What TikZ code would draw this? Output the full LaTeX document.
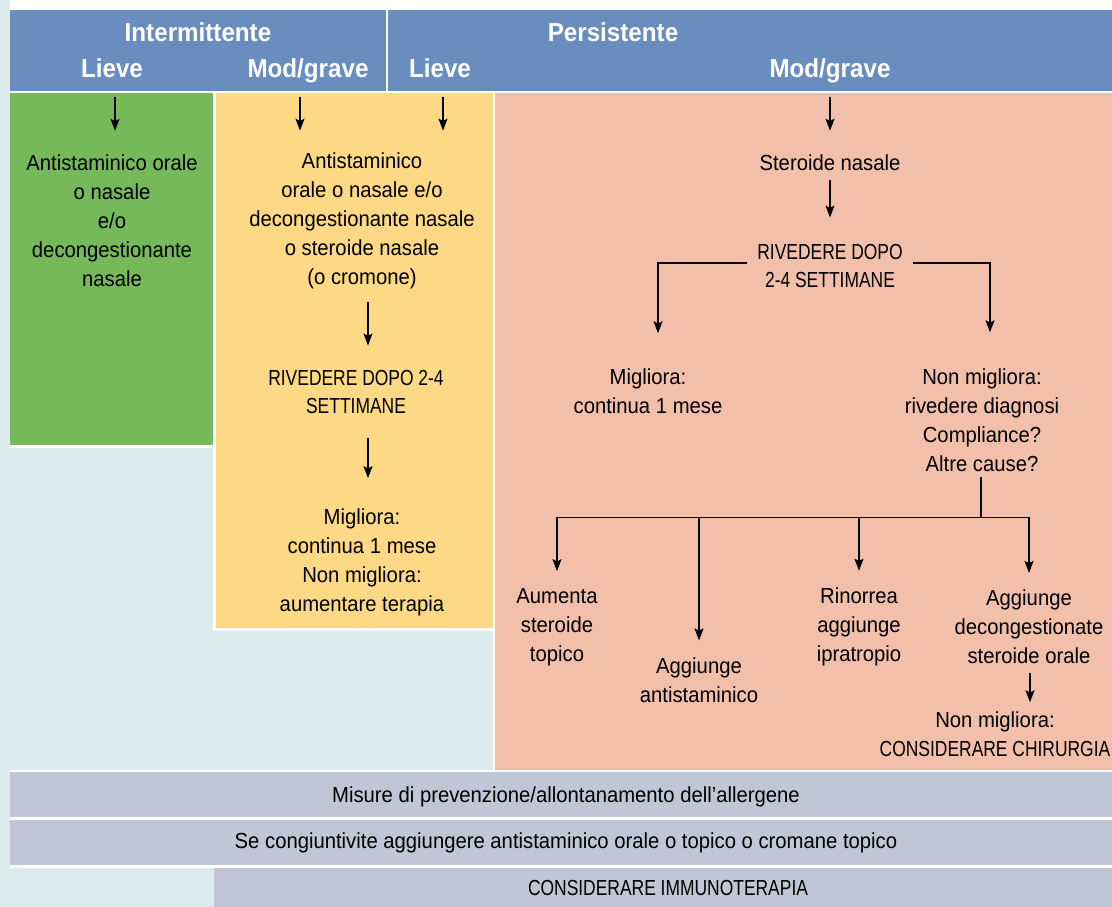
\documentclass[tikz,border=0pt]{standalone}
\usepackage{fontspec}
\setmainfont{Liberation Sans}[FakeStretch=0.93]
\newfontfamily\capsfont{Liberation Sans}[FakeStretch=0.80]
\usepackage{tikz}
\usetikzlibrary{arrows.meta,calc,positioning}

\definecolor{bgteal}{HTML}{DCEBEB}
\definecolor{headblue}{HTML}{6A8DC0}
\definecolor{lievegreen}{HTML}{75B95A}
\definecolor{modyellow}{HTML}{FDD985}
\definecolor{persalmon}{HTML}{F2BFAA}
\definecolor{bandgrey}{HTML}{C1C6D6}

\begin{document}
\begin{tikzpicture}[x=0.025cm, y=-0.025cm,
  >={Stealth[length=8.5pt, width=6.4pt, inset=1.6pt]},
  font=\fontsize{15.5}{20.6}\selectfont,
  txt/.style={align=center, inner sep=0pt},
  head/.style={inner sep=0pt, anchor=base, text=white,
    font=\fontsize{18.5}{20}\selectfont\bfseries},
  link/.style={->, line width=0.9pt},
  wire/.style={line width=0.9pt}]

\useasboundingbox (0,0) rectangle (1112,907);

% ---- Background and panels ----
\fill[bgteal] (0,0) rectangle (1112,907);
\fill[white] (10,0) rectangle (1112,10);
\fill[headblue] (10,10) rectangle (1112,91);
\fill[white] (385.5,10) rectangle (387.5,91);
\fill[white] (10,91) rectangle (1112,93);
\fill[lievegreen] (10,93) rectangle (213,445);
\fill[white] (10,445) rectangle (213,447.5);
\fill[white] (213,93) rectangle (215.5,630.5);
\fill[modyellow] (215.5,93) rectangle (492.5,628);
\fill[white] (215.5,628) rectangle (495,630.5);
\fill[white] (492.5,93) rectangle (495,769.5);
\fill[persalmon] (495,93) rectangle (1112,769.5);
\fill[white] (10,769.5) rectangle (1112,772);
\fill[bandgrey] (10,772) rectangle (1112,817);
\fill[white] (10,817) rectangle (1112,820);
\fill[bandgrey] (10,820) rectangle (1112,865);
\fill[white] (10,865) rectangle (1112,868);
\fill[bandgrey] (214,868) rectangle (1112,907);

% ---- Header ----
\node[head] (hInt)    at (198,42) {Intermittente};
\node[head] (hLieveI) at (112,77) {Lieve};
\node[head] (hModI)   at (308,77) {Mod/grave};
\node[head] (hPers)   at (613,42) {Persistente};
\node[head] (hLieveP) at (440,77) {Lieve};
\node[head] (hModP)   at (830,77) {Mod/grave};

% ---- Intermittente lieve ----
\node[txt] (gTx) at (112,221)
  {Antistaminico orale\\o nasale\\e/o\\decongestionante\\nasale};
\draw[link] ($(hLieveI.base)+(3,20)$) -- ($(hLieveI.base |- gTx.north)+(3,-24)$);

% ---- Intermittente mod/grave e persistente lieve ----
\node[txt] (yTx) at (362,221)
  {Antistaminico\\orale o nasale e/o\\decongestionante nasale\\o steroide nasale\\(o cromone)};
\node[txt, font=\fontsize{15.5}{20.6}\capsfont] (yRev) at (356,392)
  {RIVEDERE DOPO 2-4\\SETTIMANE};
\node[txt] (yEsito) at (362,562)
  {Migliora:\\continua 1 mese\\Non migliora:\\aumentare terapia};
\draw[link] ($(hModI.base)+(-8,20)$) -- ($(hModI.base |- yTx.north)+(-8,-22)$);
\draw[link] ($(hLieveP.base)+(3,20)$) -- ($(hLieveP.base |- yTx.north)+(3,-22)$);
\draw[link] ($(yTx.south)+(6,13)$) -- ($(yTx.south |- yRev.north)+(6,-24)$);
\draw[link] ($(yRev.base)+(12,24)$) -- ($(yRev.base |- yEsito.north)+(12,-30)$);

% ---- Persistente mod/grave ----
\node[txt] (sSter) at (830,163) {Steroide nasale};
\node[txt, font=\fontsize{15.5}{20.6}\capsfont] (sRev) at (830,266)
  {RIVEDERE DOPO\\2-4 SETTIMANE};
\node[txt] (sMigl) at (648,391) {Migliora:\\continua 1 mese};
\node[txt] (sNonM) at (982,420)
  {Non migliora:\\rivedere diagnosi\\Compliance?\\Altre cause?};
\draw[link] ($(hModP.base)+(0,20)$) -- ($(sSter.north)+(0,-24)$);
\draw[link] ($(sSter.base)+(0,9)$) -- ($(sRev.north)+(0,-26)$);
\draw[link] ($(sRev.west)+(-10,-3)$) -| ($(sMigl.north)+(10,-35)$);
\draw[link] ($(sRev.east)+(10,-3)$) -| ($(sNonM.north)+(8,-36)$);

% four options below the fork
\node[txt] (sAum) at (557,627) {Aumenta\\steroide\\topico};
\node[txt] (sAnt) at (699,680) {Aggiunge\\antistaminico};
\node[txt] (sRin) at (859,627) {Rinorrea\\aggiunge\\ipratropio};
\node[txt] (sDec) at (1029,627) {Aggiunge\\decongestionate\\steroide orale};
\node[txt] (sChir) at (995,734) {Non migliora:\\{\capsfont CONSIDERARE CHIRURGIA}};

\coordinate (fork) at ($(sNonM.base)+(-1,46)$);
\draw[wire] ($(sNonM.base)+(-1,6)$) -- (fork);
\draw[link, shorten >=12pt] (fork) -| (sAum);
\draw[link, shorten >=12pt] (fork) -| (sAnt);
\draw[link, shorten >=12pt] (fork) -| (sRin);
\draw[link, shorten >=12pt] (fork) -| (sDec);
\draw[link] ($(sDec.base)+(1,9)$) -- ($(sDec.base |- sChir.north)+(1,-9)$);

% ---- Bands ----
\node[txt] (mMis)  at (566,797) {Misure di prevenzione/allontanamento dell’allergene};
\node[txt] (mCong) at (566,843) {Se congiuntivite aggiungere antistaminico orale o topico o cromane topico};
\node[txt, font=\fontsize{15.5}{20.6}\capsfont] (mImm) at (668,888) {CONSIDERARE IMMUNOTERAPIA};

\end{tikzpicture}
\end{document}
